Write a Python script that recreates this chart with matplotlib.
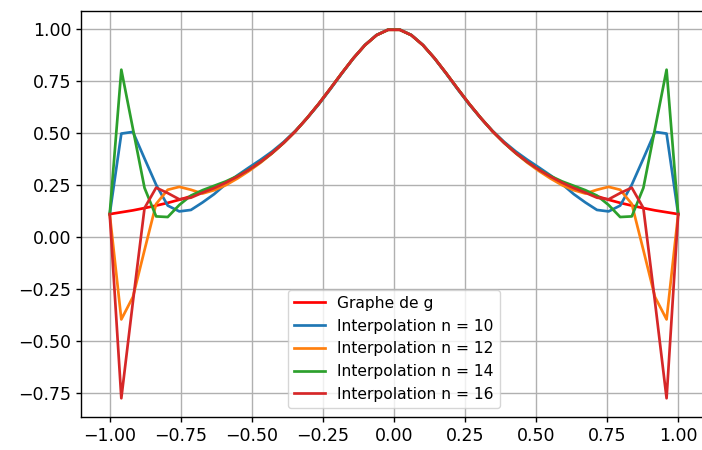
import numpy as np
import matplotlib
matplotlib.use("Agg")
import matplotlib.pyplot as plt

x_start, x_end, n_samples = -1.0, 1.0, 50

g_vals = [0.111, 0.120, 0.129, 0.140, 0.152, 0.165, 0.180, 0.197, 0.216, 0.238,
          0.263, 0.292, 0.324, 0.362, 0.405, 0.454, 0.509, 0.572, 0.640, 0.713,
          0.788, 0.860, 0.923, 0.971, 0.997,
          0.997, 0.971, 0.923, 0.860, 0.788, 0.713, 0.640, 0.572, 0.509, 0.454,
          0.405, 0.362, 0.324, 0.292, 0.263, 0.238, 0.216, 0.197, 0.180, 0.165,
          0.152, 0.140, 0.129, 0.120, 0.111]

interp_10 = [0.111, 0.498, 0.506, 0.378, 0.252, 0.152, 0.124, 0.131, 0.167, 0.207,
             0.255, 0.297, 0.335, 0.372, 0.412, 0.458, 0.511, 0.571, 0.637, 0.710,
             0.786, 0.859, 0.924, 0.972, 0.998,
             0.998, 0.972, 0.924, 0.859, 0.786, 0.710, 0.637, 0.571, 0.511, 0.458,
             0.412, 0.372, 0.335, 0.297, 0.255, 0.207, 0.167, 0.131, 0.124, 0.152,
             0.252, 0.378, 0.506, 0.498, 0.111]

interp_12 = [0.111, -0.395, -0.287, -0.062, 0.160, 0.228, 0.242, 0.228, 0.210, 0.226,
             0.250, 0.282, 0.318, 0.358, 0.403, 0.453, 0.509, 0.572, 0.640, 0.713,
             0.788, 0.860, 0.923, 0.971, 0.997,
             0.997, 0.971, 0.923, 0.860, 0.788, 0.713, 0.640, 0.572, 0.509, 0.453,
             0.403, 0.358, 0.318, 0.282, 0.250, 0.226, 0.210, 0.228, 0.242, 0.228,
             0.160, -0.062, -0.287, -0.395, 0.111]

interp_14 = [0.111, 0.805, 0.521, 0.237, 0.100, 0.097, 0.155, 0.200, 0.226, 0.247,
             0.268, 0.294, 0.325, 0.362, 0.405, 0.454, 0.509, 0.572, 0.640, 0.713,
             0.788, 0.860, 0.923, 0.971, 0.997,
             0.997, 0.971, 0.923, 0.860, 0.788, 0.713, 0.640, 0.572, 0.509, 0.454,
             0.405, 0.362, 0.325, 0.294, 0.268, 0.247, 0.226, 0.200, 0.155, 0.097,
             0.100, 0.237, 0.521, 0.805, 0.111]

interp_16 = [0.111, -0.774, -0.310, 0.140, 0.238, 0.212, 0.182, 0.190, 0.214, 0.236,
             0.262, 0.291, 0.324, 0.362, 0.405, 0.454, 0.509, 0.572, 0.640, 0.713,
             0.788, 0.860, 0.923, 0.971, 0.997,
             0.997, 0.971, 0.923, 0.860, 0.788, 0.713, 0.640, 0.572, 0.509, 0.454,
             0.405, 0.362, 0.324, 0.291, 0.262, 0.236, 0.214, 0.190, 0.182, 0.212,
             0.238, 0.140, -0.310, -0.774, 0.111]

labels = ["Graphe de g", "Interpolation n = 10", "Interpolation n = 12",
          "Interpolation n = 14", "Interpolation n = 16"]

xs = np.linspace(x_start, x_end, n_samples)

fig = plt.figure(figsize=(7.02, 4.5), dpi=100)
left, right, top, bottom = 81.3, 706.6, 11.1, 416.7
ax = fig.add_axes([left / 702, 1 - bottom / 450, (right - left) / 702, (bottom - top) / 450])

lw = 1.95
ax.plot(xs, g_vals, color="red", lw=lw, label=labels[0])
ax.plot(xs, interp_10, color="C0", lw=lw, label=labels[1])
ax.plot(xs, interp_12, color="C1", lw=lw, label=labels[2])
ax.plot(xs, interp_14, color="C2", lw=lw, label=labels[3])
ax.plot(xs, interp_16, color="C3", lw=lw, label=labels[4])

ax.set_xlim(-1.1, 1.1)
ax.grid(True, lw=1.0)
ax.tick_params(labelsize=12.5, length=3.8, width=1.0)
for s in ax.spines.values():
    s.set_linewidth(1.0)
ax.legend(loc="lower center", fontsize=11.2, borderaxespad=0.55)

fig.savefig("out.png", dpi=100)
